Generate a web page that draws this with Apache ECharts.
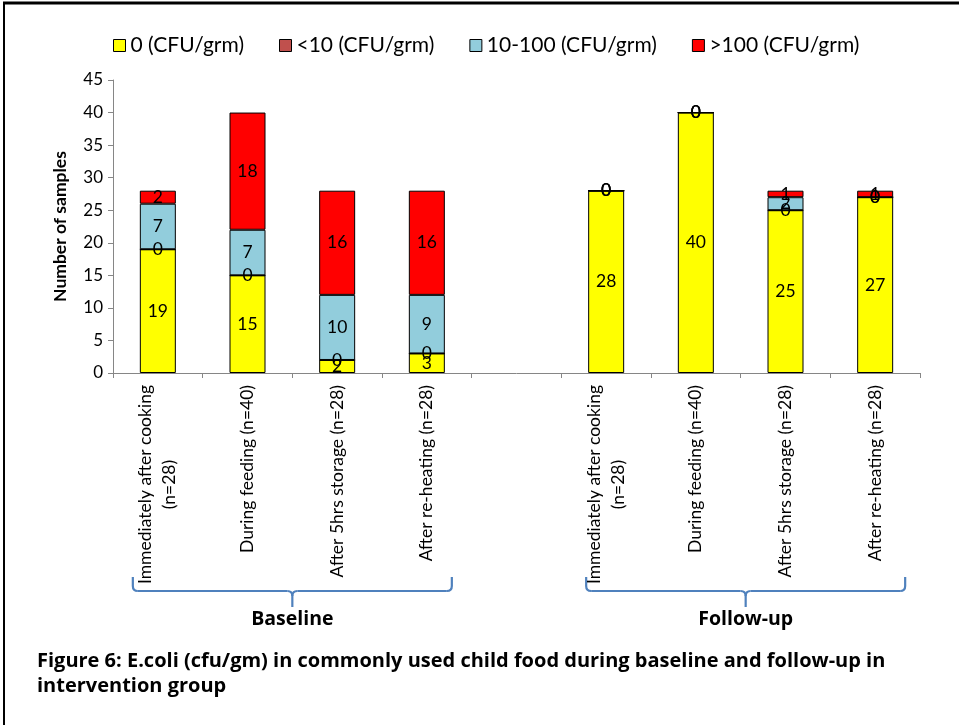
<!DOCTYPE html>
<html>
<head>
<meta charset="utf-8">
<script src="https://cdn.jsdelivr.net/npm/echarts@6/dist/echarts.min.js"></script>
<style>
html,body{margin:0;padding:0;background:#fff;}
#chart{width:959px;height:725px;}
</style>
</head>
<body>
<div id="chart"></div>
<script>
// ---- data ----
const categories = [
  'Immediately after cooking\n(n=28)', 'During feeding (n=40)', 'After 5hrs storage (n=28)', 'After re-heating (n=28)',
  '',
  'Immediately after cooking\n(n=28)', 'During feeding (n=40)', 'After 5hrs storage (n=28)', 'After re-heating (n=28)'
];
const seriesNames = ['0 (CFU/grm)', '<10 (CFU/grm)', '10-100 (CFU/grm)', '>100 (CFU/grm)'];
const zeroCFU   = [19, 15, 2, 3, '-', 28, 40, 25, 27];
const lt10CFU   = [0, 0, 0, 0, '-', 0, 0, 0, 0];
const mid100CFU = [7, 7, 10, 9, '-', 0, 0, 2, 0];
const gt100CFU  = [2, 18, 16, 16, '-', 0, 0, 1, 1];
const yTicks = [0, 5, 10, 15, 20, 25, 30, 35, 40, 45];
const groupNames = ['Baseline', 'Follow-up'];
const groupRanges = [[0, 3], [5, 8]];
const captionLines = [
  'Figure 6: E.coli (cfu/gm) in commonly used child food during baseline and follow-up in',
  'intervention group'
];

const colors = ['#FFFF00', '#C0504D', '#92CDDC', '#FF0000'];
const seriesData = [zeroCFU, lt10CFU, mid100CFU, gt100CFU];
const FONT = 'Lato, "Open Sans", sans-serif';
const BFONT = '"Open Sans", Lato, sans-serif';

const chart = echarts.init(document.getElementById('chart'), null, {renderer: 'canvas'});

const option = {
  animation: false,
  backgroundColor: '#ffffff',
  legend: {
    top: 30,
    left: 108,
    itemWidth: 12,
    itemHeight: 12,
    itemGap: 35,
    icon: 'rect',
    textStyle: {fontFamily: FONT, fontSize: 21, color: '#000'},
    itemStyle: {borderColor: '#000', borderWidth: 1},
    data: seriesNames
  },
  grid: {left: 113, right: 39, top: 80, bottom: 352, containLabel: false},
  xAxis: {
    type: 'category',
    data: categories,
    boundaryGap: true,
    axisLine: {lineStyle: {color: '#868686', width: 1}},
    axisTick: {show: true, interval: 0, length: 5, lineStyle: {color: '#868686'}},
    axisLabel: {
      interval: 0,
      rotate: 90,
      margin: 12,
      color: '#000',
      fontFamily: FONT,
      fontSize: 17.5,
      lineHeight: 24,
      formatter: function (v) {
        if (!v) return '';
        return v.split('\n').map(function (l) { return '{a|' + l + '}'; }).join('\n');
      },
      rich: {a: {align: 'center', fontFamily: FONT, fontSize: 17.5, color: '#000', lineHeight: 24}}
    }
  },
  yAxis: {
    type: 'value',
    min: yTicks[0],
    max: yTicks[yTicks.length - 1],
    interval: yTicks[1] - yTicks[0],
    name: 'Number of samples',
    nameLocation: 'middle',
    nameRotate: 90,
    nameGap: 44,
    nameTextStyle: {fontFamily: FONT, fontWeight: 'bold', fontSize: 17.5, color: '#000'},
    axisLine: {show: true, lineStyle: {color: '#868686'}},
    axisTick: {show: true, length: 5, lineStyle: {color: '#868686'}},
    splitLine: {show: false},
    axisLabel: {fontFamily: FONT, fontSize: 17, color: '#000', margin: 10}
  },
  series: seriesNames.map(function (name, i) {
    return {
      name: name,
      type: 'bar',
      stack: 'total',
      barWidth: 36,
      data: seriesData[i],
      itemStyle: {color: colors[i], borderColor: '#000', borderWidth: 1},
      label: {
        show: true,
        position: 'inside',
        color: '#000',
        fontFamily: FONT,
        fontSize: 17.5
      }
    };
  })
};
chart.setOption(option);

function drawAnnotations() {
  const g = [];
  const stroke = {stroke: '#4F81BD', lineWidth: 2.2, fill: null};
  // frame lines (top and left)
  g.push({type: 'line', shape: {x1: 3, y1: 3, x2: 959, y2: 3}, style: {stroke: '#000', lineWidth: 3}});
  g.push({type: 'line', shape: {x1: 4, y1: 3, x2: 4, y2: 725}, style: {stroke: '#000', lineWidth: 2}});
  const braceTop = 577, braceMid = 591, braceBot = 607, rr = 5;
  const braceOffsets = [[-25, 25], [-20, 30]];
  groupRanges.forEach(function (r, k) {
    const xa = chart.convertToPixel({xAxisIndex: 0}, r[0]) + braceOffsets[k][0];
    const xb = chart.convertToPixel({xAxisIndex: 0}, r[1]) + braceOffsets[k][1];
    const xm = (xa + xb) / 2;
    g.push({type: 'line', shape: {x1: xa, y1: braceTop, x2: xa, y2: braceMid - rr}, style: stroke});
    g.push({type: 'bezierCurve', shape: {x1: xa, y1: braceMid - rr, x2: xa + rr, y2: braceMid, cpx1: xa, cpy1: braceMid}, style: stroke});
    g.push({type: 'line', shape: {x1: xa + rr, y1: braceMid, x2: xm - rr, y2: braceMid}, style: stroke});
    g.push({type: 'bezierCurve', shape: {x1: xm - rr, y1: braceMid, x2: xm, y2: braceMid + rr, cpx1: xm, cpy1: braceMid}, style: stroke});
    g.push({type: 'bezierCurve', shape: {x1: xm + rr, y1: braceMid, x2: xm, y2: braceMid + rr, cpx1: xm, cpy1: braceMid}, style: stroke});
    g.push({type: 'line', shape: {x1: xm, y1: braceMid + rr, x2: xm, y2: braceBot}, style: stroke});
    g.push({type: 'line', shape: {x1: xm + rr, y1: braceMid, x2: xb - rr, y2: braceMid}, style: stroke});
    g.push({type: 'bezierCurve', shape: {x1: xb - rr, y1: braceMid, x2: xb, y2: braceMid - rr, cpx1: xb, cpy1: braceMid}, style: stroke});
    g.push({type: 'line', shape: {x1: xb, y1: braceMid - rr, x2: xb, y2: braceTop}, style: stroke});
    g.push({type: 'text', x: xm, y: 619, style: {text: groupNames[k], fontFamily: BFONT, fontWeight: 'bold', fontSize: 19.5, fill: '#000', align: 'center', verticalAlign: 'middle'}});
  });
  captionLines.forEach(function (t, i) {
    g.push({type: 'text', x: 37, y: 661 + i * 25, style: {text: t, fontFamily: BFONT, fontWeight: 'bold', fontSize: 20, fill: '#000', align: 'left', verticalAlign: 'middle'}});
  });
  chart.setOption({graphic: g});
}
drawAnnotations();
</script>
</body>
</html>
